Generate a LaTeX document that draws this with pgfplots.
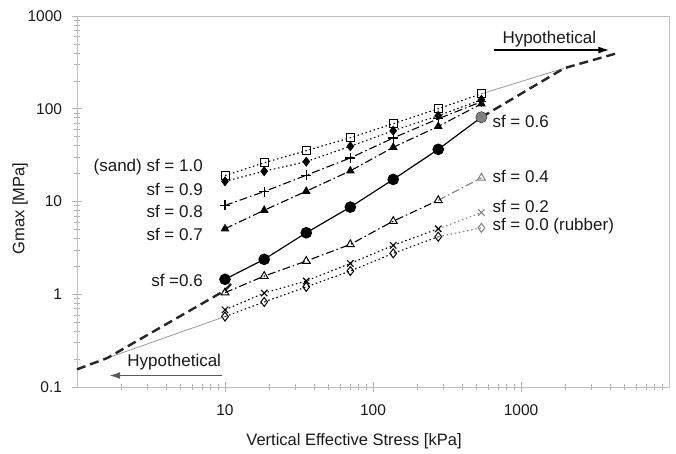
\documentclass[border=0pt]{standalone}
\usepackage{fontspec}
\setmainfont{Liberation Sans}
\usepackage{pgfplots}
\pgfplotsset{compat=1.18}
\usetikzlibrary{arrows.meta}
\begin{document}
\begin{tikzpicture}
\tikzset{
  dotl/.style={line width=1.1bp, dash pattern=on 1.5bp off 2.7bp},
  dashdotl/.style={line width=1.1bp, dash pattern=on 8bp off 3bp on 1.5bp off 3bp},
}
\begin{axis}[
  scale only axis, width=592bp, height=371bp,
  xmode=log, ymode=log, xmin=1, xmax=10000, ymin=0.1, ymax=1000,
  axis line style={black!25, line width=0.8bp},
  xtick={10,100,1000}, xticklabels={10,100,1000},
  ytick={0.1,1,10,100,1000}, yticklabels={0.1,1,10,100,1000},
  minor xtick={2,3,4,5,6,7,8,9,20,30,40,50,60,70,80,90,200,300,400,500,600,700,800,900,2000,3000,4000,5000,6000,7000,8000,9000},
  minor ytick={0.2,0.3,0.4,0.5,0.6,0.7,0.8,0.9,2,3,4,5,6,7,8,9,20,30,40,50,60,70,80,90,200,300,400,500,600,700,800,900},
  xtick pos=bottom, ytick pos=left,
  tick style={black!30, line width=0.6bp},
  tick align=center, major tick length=11bp, minor tick length=6bp,
  tick label style={font=\fontsize{15.5bp}{18bp}\selectfont, text=black!90},
  xticklabel style={yshift=-9bp},
  yticklabel style={xshift=-6bp},
  clip=false,
]
\coordinate (sw) at (rel axis cs:0,0);
\coordinate (ne) at (rel axis cs:1,1);

% hypothetical thin grey lines
\addplot[black!40, line width=0.8bp, mark=none] coordinates {(1.6,0.205) (10,0.575)};
\addplot[black!40, line width=0.8bp, mark=none] coordinates {(540,145) (1963,274)};

% thick dashed
\addplot[black!85, line width=2.4bp, dash pattern=on 9bp off 5bp, mark=none] coordinates {(1,0.155) (1.6,0.205) (10,1.1) (11.5,1.4)};
\addplot[black!85, line width=2.4bp, dash pattern=on 9bp off 5bp, mark=none] coordinates {(540,81) (1963,274) (4610,403)};

% sf = 1.0
\addplot[black, dotl, mark=square, mark size=4bp, mark options={solid, fill=white, line width=1bp}] coordinates {
(10,19.0) (18.4,26.2) (35.4,35.3) (70.3,48.7) (137,69) (276,100) (540,145)};
% sf = 0.9
\addplot[black, dotl, mark=diamond*, mark size=4.2bp, mark options={solid}] coordinates {
(10,16.5) (18.4,21.2) (35.4,26.9) (70.3,39.4) (137,58) (276,84) (540,125)};
% sf = 0.8
\addplot[black, dashdotl, mark=+, mark size=5bp, mark options={solid, line width=1.2bp}] coordinates {
(10,9.06) (18.4,12.8) (35.4,19.2) (70.3,29.5) (137,48.4) (276,78) (540,119)};
% sf = 0.7
\addplot[black, dashdotl, mark=triangle*, mark size=4bp, mark options={solid}] coordinates {
(10,5.08) (18.4,8.05) (35.4,12.9) (70.3,21.4) (137,38.4) (276,64.5) (540,113)};
% sf = 0.6
\addplot[black, line width=1.2bp, mark=*, mark size=5.2bp] coordinates {
(10,1.45) (18.4,2.38) (35.4,4.6) (70.3,8.7) (137,17.3) (276,36.5) (540,81)};
\addplot[black!50, only marks, mark=*, mark size=5.2bp] coordinates {(540,81)};
% sf = 0.4
\addplot[black, dashdotl, mark=triangle, mark size=4.5bp, mark options={solid, fill=white, line width=1bp}] coordinates {
(10,1.04) (18.4,1.57) (35.4,2.28) (70.3,3.45) (137,6.14) (276,10.3)};
\addplot[black!50, dashdotl, mark=triangle, mark size=4.5bp, mark indices={2}, mark options={solid, fill=white, line width=1bp}] coordinates {
(276,10.3) (540,18)};
% sf = 0.2
\addplot[black, dotl, mark=x, mark size=4.5bp, mark options={solid, line width=1.1bp}] coordinates {
(10,0.68) (18.4,1.03) (35.4,1.39) (70.3,2.15) (137,3.37) (276,5.08)};
\addplot[black!50, dotl, mark=x, mark size=4.5bp, mark indices={2}, mark options={solid, line width=1.1bp}] coordinates {
(276,5.08) (540,7.6)};
% sf = 0.0
\addplot[black, dotl, mark=diamond, mark size=4.5bp, mark options={solid, fill=white, line width=1bp}] coordinates {
(10,0.575) (18.4,0.826) (35.4,1.2) (70.3,1.78) (137,2.76) (276,4.17)};
\addplot[black!50, dotl, mark=diamond, mark size=4.5bp, mark indices={2}, mark options={solid, fill=white, line width=1bp}] coordinates {
(276,4.17) (540,5.2)};

% labels
\tikzset{lab/.style={font=\fontsize{17bp}{20bp}\selectfont, inner sep=0pt, text=black!90}}
\node[lab, anchor=east] at (axis cs:7.1,23.2) {(sand) sf = 1.0};
\node[lab, anchor=east] at (axis cs:7.1,13.5) {sf = 0.9};
\node[lab, anchor=east] at (axis cs:7.1,7.8) {sf = 0.8};
\node[lab, anchor=east] at (axis cs:7.1,4.41) {sf = 0.7};
\node[lab, anchor=east] at (axis cs:7.1,1.42) {sf =0.6};
\node[lab, anchor=west] at (axis cs:640,72.4) {sf = 0.6};
\node[lab, anchor=west] at (axis cs:640,18.6) {sf = 0.4};
\node[lab, anchor=west] at (axis cs:640,8.83) {sf = 0.2};
\node[lab, anchor=west] at (axis cs:640,5.38) {sf = 0.0 (rubber)};

\node[lab] at (axis cs:4.54,0.186) {Hypothetical};
\draw[black!65, line width=1.6bp, -{Latex[length=11bp,width=7bp]}] (axis cs:9.6,0.133) -- (axis cs:1.65,0.133);
\node[lab] at (axis cs:1553,566) {Hypothetical};
\draw[black, line width=1.6bp, -{Latex[length=11bp,width=7bp]}] (axis cs:661,430) -- (axis cs:3954,430);

\node[lab, font=\fontsize{16.5bp}{20bp}\selectfont] at ([xshift=-19bp,yshift=-54bp]axis description cs:0.5,0) {Vertical Effective Stress [kPa]};
\node[lab, font=\fontsize{16.5bp}{20bp}\selectfont, rotate=90] at ([xshift=-57bp,yshift=-7bp]axis description cs:0,0.5) {Gmax [MPa]};
\end{axis}
\pgfresetboundingbox
\path ([shift={(-77bp,-67bp)}]sw) rectangle ([shift={(7bp,16bp)}]ne);
\end{tikzpicture}
\end{document}
